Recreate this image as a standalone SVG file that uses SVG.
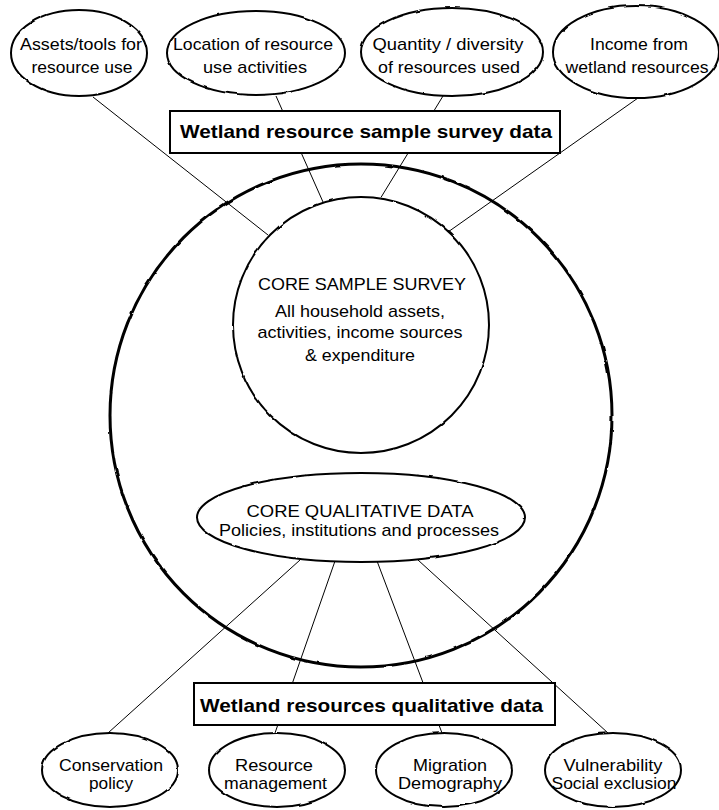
<svg xmlns="http://www.w3.org/2000/svg" width="719" height="810" viewBox="0 0 719 810">
<style>
  .bg { fill: #ffffff; }
  .conn line { stroke: #000; stroke-width: 1; fill: none; }
  .oval { fill: #fff; stroke: #000; stroke-width: 2; }
  .big { fill: none; stroke: #000; stroke-width: 3; }
  .box { fill: #fff; stroke: #000; stroke-width: 2; }
  .t { font-family: "Liberation Sans", Arial, sans-serif; font-size: 17px; fill: #000; text-anchor: middle; }
  .b { font-family: "Liberation Sans", Arial, sans-serif; font-size: 19px; font-weight: bold; fill: #000; text-anchor: middle; }
</style>
<defs>
  <filter id="rough" x="-5%" y="-5%" width="110%" height="110%">
    <feTurbulence type="fractalNoise" baseFrequency="0.08" numOctaves="1" seed="3" result="n"/>
    <feDisplacementMap in="SourceGraphic" in2="n" scale="2.5" xChannelSelector="R" yChannelSelector="G"/>
  </filter>
</defs>
<rect class="bg" x="0" y="0" width="719" height="810"/>

<g id="outer-circle">
  <ellipse class="big" cx="361" cy="415.5" rx="251" ry="251.5" filter="url(#rough)"/>
</g>

<g id="connectors" class="conn">
  <line x1="93" y1="97" x2="268" y2="235"/>
  <line x1="276" y1="96" x2="323" y2="202"/>
  <line x1="443" y1="96" x2="380" y2="199"/>
  <line x1="638" y1="98" x2="448" y2="232"/>
  <line x1="300" y1="560" x2="108" y2="733"/>
  <line x1="335" y1="561" x2="275" y2="733"/>
  <line x1="377" y1="561" x2="442" y2="733"/>
  <line x1="418" y1="560" x2="608" y2="733"/>
</g>

<g id="assets">
  <ellipse class="oval" cx="79" cy="53" rx="68" ry="43" filter="url(#rough)"/>
  <text class="t" x="81" y="50" textLength="122" lengthAdjust="spacingAndGlyphs">Assets/tools for</text>
  <text class="t" x="82" y="73" textLength="101" lengthAdjust="spacingAndGlyphs">resource use</text>
</g>
<g id="location">
  <ellipse class="oval" cx="256" cy="53" rx="89" ry="42" filter="url(#rough)"/>
  <text class="t" x="253" y="50" textLength="160" lengthAdjust="spacingAndGlyphs">Location of resource</text>
  <text class="t" x="255" y="73" textLength="104" lengthAdjust="spacingAndGlyphs">use activities</text>
</g>
<g id="quantity">
  <ellipse class="oval" cx="452" cy="52" rx="91" ry="44" filter="url(#rough)"/>
  <text class="t" x="448" y="50" textLength="151" lengthAdjust="spacingAndGlyphs">Quantity / diversity</text>
  <text class="t" x="449" y="73" textLength="142" lengthAdjust="spacingAndGlyphs">of resources used</text>
</g>
<g id="income">
  <ellipse class="oval" cx="636" cy="52" rx="83" ry="46" filter="url(#rough)"/>
  <text class="t" x="639" y="50" textLength="98" lengthAdjust="spacingAndGlyphs">Income from</text>
  <text class="t" x="637" y="73" textLength="143" lengthAdjust="spacingAndGlyphs">wetland resources</text>
</g>

<g id="survey-box">
  <rect class="box" x="170" y="111" width="390" height="42"/>
  <text class="b" x="366" y="138" textLength="372" lengthAdjust="spacingAndGlyphs">Wetland resource sample survey data</text>
</g>

<g id="core-sample">
  <circle class="oval" cx="361" cy="325" r="128" filter="url(#rough)"/>
  <text class="t" x="362" y="290" textLength="208" lengthAdjust="spacingAndGlyphs">CORE SAMPLE SURVEY</text>
  <text class="t" x="360" y="317" textLength="170" lengthAdjust="spacingAndGlyphs">All household assets,</text>
  <text class="t" x="360" y="338" textLength="205" lengthAdjust="spacingAndGlyphs">activities, income sources</text>
  <text class="t" x="360" y="361" textLength="110" lengthAdjust="spacingAndGlyphs">&amp; expenditure</text>
</g>

<g id="core-qualitative">
  <ellipse class="oval" cx="361" cy="517.5" rx="164" ry="44.5" filter="url(#rough)"/>
  <text class="t" x="360" y="517" textLength="227" lengthAdjust="spacingAndGlyphs">CORE QUALITATIVE DATA</text>
  <text class="t" x="359" y="536" textLength="280" lengthAdjust="spacingAndGlyphs">Policies, institutions and processes</text>
</g>

<g id="qualitative-box">
  <rect class="box" x="194" y="683" width="361" height="42"/>
  <text class="b" x="371.5" y="712" textLength="343" lengthAdjust="spacingAndGlyphs">Wetland resources qualitative data</text>
</g>

<g id="conservation">
  <ellipse class="oval" cx="110" cy="770" rx="68" ry="37" filter="url(#rough)"/>
  <text class="t" x="111" y="771" textLength="104" lengthAdjust="spacingAndGlyphs">Conservation</text>
  <text class="t" x="111" y="789" textLength="44" lengthAdjust="spacingAndGlyphs">policy</text>
</g>
<g id="resource-management">
  <ellipse class="oval" cx="277" cy="770" rx="68" ry="37" filter="url(#rough)"/>
  <text class="t" x="274" y="771" textLength="78" lengthAdjust="spacingAndGlyphs">Resource</text>
  <text class="t" x="275.5" y="789" textLength="103" lengthAdjust="spacingAndGlyphs">management</text>
</g>
<g id="migration">
  <ellipse class="oval" cx="444" cy="770" rx="68" ry="37" filter="url(#rough)"/>
  <text class="t" x="450" y="771" textLength="74" lengthAdjust="spacingAndGlyphs">Migration</text>
  <text class="t" x="450" y="789" textLength="104" lengthAdjust="spacingAndGlyphs">Demography</text>
</g>
<g id="vulnerability">
  <ellipse class="oval" cx="613" cy="770" rx="68" ry="37" filter="url(#rough)"/>
  <text class="t" x="613" y="771" textLength="99" lengthAdjust="spacingAndGlyphs">Vulnerability</text>
  <text class="t" x="614" y="789" textLength="125" lengthAdjust="spacingAndGlyphs">Social exclusion</text>
</g>
</svg>
